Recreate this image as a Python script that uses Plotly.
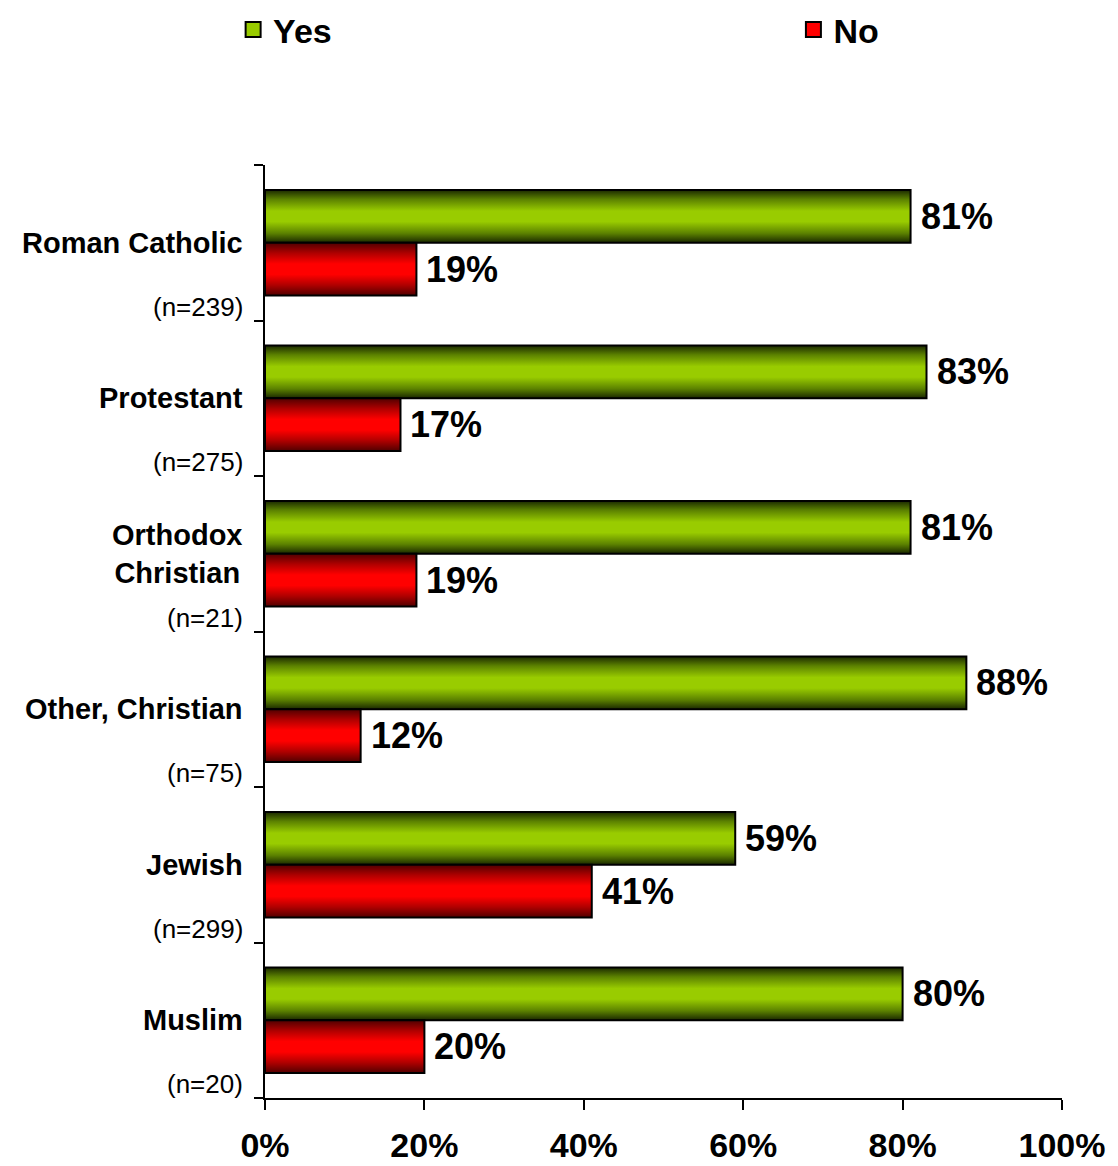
import plotly.graph_objects as go

# data
categories = ["Roman Catholic", "Protestant", "Orthodox<br>Christian", "Other, Christian", "Jewish", "Muslim"]
sample_sizes = ["(n=239)", "(n=275)", "(n=21)", "(n=75)", "(n=299)", "(n=20)"]
yes_pct = [81, 83, 81, 88, 59, 80]
no_pct = [19, 17, 19, 12, 41, 20]
x_ticks = [0, 20, 40, 60, 80, 100]

FONT = "Liberation Sans, Arial, sans-serif"
HALF = 0.17  # half bar thickness in category units

GREEN_SCALE = [[0, "#1a2800"], [0.18, "#5c8200"], [0.4, "#99cc00"], [0.6, "#99cc00"], [0.82, "#5c8200"], [1, "#1a2800"]]
RED_SCALE = [[0, "#500000"], [0.2, "#b00000"], [0.4, "#ff0000"], [0.6, "#ff0000"], [0.8, "#b00000"], [1, "#500000"]]


def add_bar(fig, value, center, scale):
    y0, y1 = center - HALF, center + HALF
    fig.add_trace(go.Scatter(
        x=[0, value, value, 0, 0],
        y=[y0, y0, y1, y1, y0],
        mode="lines",
        fill="toself",
        fillgradient=dict(type="vertical", colorscale=scale),
        line=dict(color="black", width=2),
        showlegend=False,
        hoverinfo="skip",
    ))


fig = go.Figure()

for i, (yv, nv) in enumerate(zip(yes_pct, no_pct)):
    add_bar(fig, yv, i - HALF, GREEN_SCALE)
    add_bar(fig, nv, i + HALF, RED_SCALE)
    fig.add_annotation(x=yv, y=i - HALF, text=f"{yv}%", showarrow=False, xanchor="left", xshift=8,
                       font=dict(family=FONT, size=36, color="black", weight="bold"))
    fig.add_annotation(x=nv, y=i + HALF, text=f"{nv}%", showarrow=False, xanchor="left", xshift=8,
                       font=dict(family=FONT, size=36, color="black", weight="bold"))
    fig.add_annotation(x=0, xref="paper", y=i, text=categories[i], showarrow=False, xanchor="right", xshift=-20,
                       font=dict(family=FONT, size=29, color="black", weight="bold"))
    fig.add_annotation(x=0, xref="paper", y=i + 0.41, text=sample_sizes[i], showarrow=False, xanchor="right", xshift=-20,
                       font=dict(family=FONT, size=26, color="black"))

# legend entries, one legend each so they sit far apart like the original
fig.add_trace(go.Scatter(x=[None], y=[None], mode="markers", name="Yes", legend="legend",
                         marker=dict(symbol="square", size=15, color="#99cc00", line=dict(color="black", width=2))))
fig.add_trace(go.Scatter(x=[None], y=[None], mode="markers", name="No", legend="legend2",
                         marker=dict(symbol="square", size=15, color="#ff0000", line=dict(color="black", width=2))))

legend_style = dict(
    orientation="h",
    xanchor="left",
    y=1.176,
    yanchor="top",
    font=dict(family=FONT, size=34, color="black", weight="bold"),
    bgcolor="rgba(0,0,0,0)",
)

# page body adds an 8px offset, so the figure is a bit smaller than the window
fig.update_layout(
    width=1110,
    height=1158,
    margin=dict(l=257, r=56, t=157, b=68, autoexpand=False),
    plot_bgcolor="white",
    paper_bgcolor="white",
    font=dict(family=FONT, color="black"),
    showlegend=True,
    legend=dict(x=-0.04, **legend_style),
    legend2=dict(x=0.663, **legend_style),
)

fig.update_xaxes(
    range=[0, 100],
    tickvals=x_ticks,
    ticktext=[f"{t}%" for t in x_ticks],
    ticks="outside",
    ticklen=10,
    tickwidth=2,
    tickcolor="black",
    showline=True,
    linecolor="black",
    linewidth=2,
    showgrid=False,
    zeroline=False,
    ticklabelstandoff=6,
    tickfont=dict(family=FONT, size=34, color="black", weight="bold"),
)

fig.update_yaxes(
    range=[len(categories) - 0.5, -0.5],
    tickvals=[i - 0.5 for i in range(len(categories) + 1)],
    showticklabels=False,
    ticks="outside",
    ticklen=9,
    tickwidth=2,
    tickcolor="black",
    showline=True,
    linecolor="black",
    linewidth=2,
    showgrid=False,
    zeroline=False,
)

fig.write_html("out.html")
